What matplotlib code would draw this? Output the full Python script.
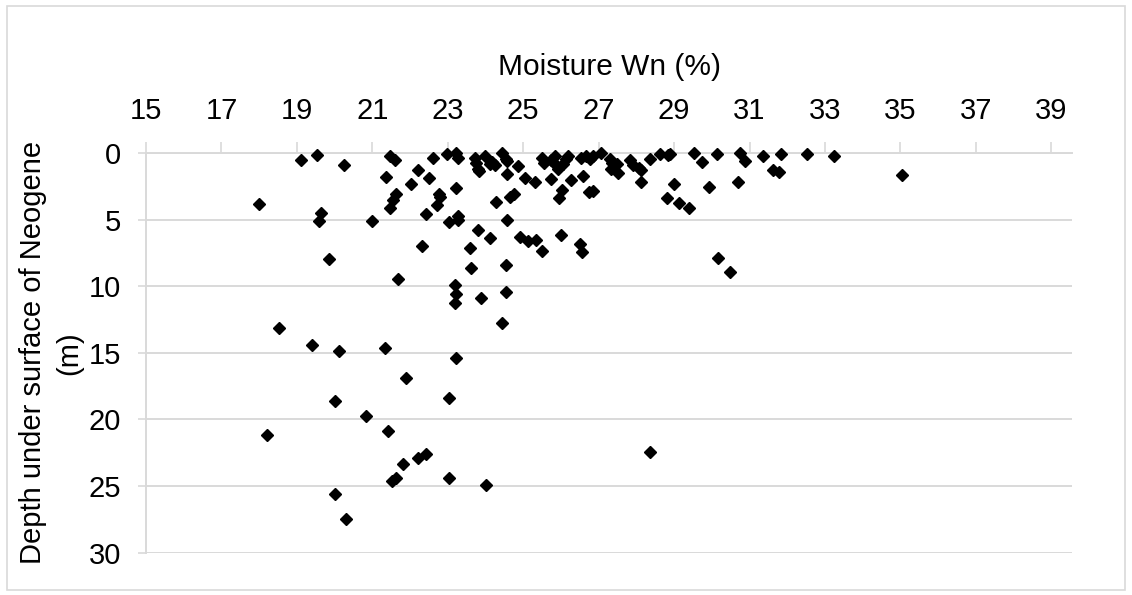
import matplotlib.pyplot as plt
from matplotlib.patches import Rectangle

plt.rcParams['font.family'] = ['Liberation Sans', 'DejaVu Sans']

# Data
moisture = [19.12, 19.54, 20.26, 21.48, 21.6, 22.6, 21.35, 22.22, 22.49, 22.02,
            21.64, 21.55, 21.46, 22.76, 22.8, 22.72, 17.99, 19.65, 19.59, 21.0,
            22.42, 22.31, 19.84, 21.69, 22.99, 23.23, 23.27, 23.23, 23.02, 23.27,
            23.27, 23.8, 23.58, 23.62, 24.13, 24.54, 24.27, 24.58, 24.64, 24.75,
            24.58, 24.85, 25.04, 25.3, 23.72, 23.76, 23.8, 23.83, 23.98, 24.11,
            24.18, 24.24, 24.45, 24.54, 24.57, 24.92, 25.13, 25.35, 25.5, 26.01,
            26.5, 26.57, 25.5, 25.54, 25.74, 25.83, 25.79, 25.73, 25.92, 26.05,
            26.14, 26.18, 26.27, 26.03, 25.95, 26.58, 26.52, 26.66, 26.76, 26.85,
            26.74, 26.85, 27.07, 27.29, 27.36, 27.33, 27.49, 27.51, 27.84, 27.91,
            28.07, 28.13, 28.11, 28.37, 28.62, 28.84, 28.9, 29.0, 28.82, 29.13,
            29.39, 29.54, 29.75, 29.92, 30.14, 30.16, 30.74, 30.87, 30.69, 31.35,
            31.84, 31.62, 31.78, 32.53, 33.25, 35.04, 30.49, 23.18, 23.23, 23.18,
            23.89, 24.54, 24.44, 18.53, 19.41, 20.12, 21.33, 23.23, 21.9, 20.01,
            23.02, 20.83, 21.42, 18.2, 22.22, 22.42, 21.82, 21.53, 21.64, 23.02,
            24.02, 20.02, 20.31, 28.35]
depth = [0.5, 0.15, 0.87, 0.25, 0.5, 0.37, 1.8, 1.27, 1.87, 2.35,
         3.05, 3.55, 4.17, 3.1, 3.3, 3.92, 3.85, 4.5, 5.12, 5.12,
         4.62, 6.95, 7.95, 9.45, 0.1, 0.0, 0.35, 2.6, 5.17, 4.75,
         5.0, 5.75, 7.1, 8.6, 6.42, 8.42, 3.67, 5.0, 3.3, 3.12,
         1.6, 0.95, 1.85, 2.17, 0.35, 0.75, 1.17, 1.35, 0.25, 0.8,
         0.67, 0.92, 0.0, 0.42, 0.6, 6.3, 6.62, 6.55, 7.35, 6.17,
         6.8, 7.43, 0.35, 0.75, 0.55, 0.25, 0.67, 1.95, 1.17, 0.8,
         0.42, 0.25, 2.05, 2.75, 3.42, 1.75, 0.37, 0.25, 0.42, 0.25,
         2.92, 2.85, 0.0, 0.42, 0.75, 1.17, 0.8, 1.5, 0.5, 0.92,
         1.1, 1.3, 2.17, 0.45, 0.05, 0.17, 0.05, 2.35, 3.42, 3.75,
         4.1, 0.0, 0.67, 2.55, 0.05, 7.92, 0.0, 0.6, 2.17, 0.25,
         0.05, 1.25, 1.42, 0.1, 0.25, 1.62, 8.92, 9.92, 10.6, 11.25,
         10.92, 10.42, 12.75, 13.12, 14.42, 14.87, 14.62, 15.42, 16.87, 18.6,
         18.42, 19.75, 20.9, 21.18, 22.92, 22.62, 23.37, 24.6, 24.42, 24.42,
         24.93, 25.6, 27.43, 22.43]

x_ticks = list(range(15, 40, 2))
y_ticks = list(range(0, 31, 5))

fig = plt.figure(figsize=(11.32, 5.95), dpi=100)
ax = fig.add_axes([0.129, 0.071, 0.818, 0.672])

grid_col = '#d9d9d9'
ax.plot(moisture, depth, linestyle='none', marker='D', markersize=6.2,
        color='black', zorder=3, clip_on=False)

ax.set_xlim(15, 39.55)
ax.set_ylim(30, 0)
ax.set_xticks(x_ticks)
ax.set_yticks(y_ticks)
ax.xaxis.tick_top()
ax.xaxis.set_label_position('top')
ax.yaxis.grid(True, color=grid_col, linewidth=1.4)
ax.set_axisbelow(True)

for s in ['right', 'bottom']:
    ax.spines[s].set_visible(False)
ax.spines['top'].set_color(grid_col)
ax.spines['top'].set_linewidth(1.4)
ax.spines['left'].set_color(grid_col)
ax.spines['left'].set_linewidth(1.4)

ax.tick_params(axis='x', which='major', top=True, direction='out', length=8,
               color=grid_col, width=1.2, labelsize=21, pad=12)
ax.tick_params(axis='y', which='major', direction='out', length=6,
               color=grid_col, width=1.2, labelsize=21, pad=12)

ax.set_xlabel('Moisture Wn (%)', fontsize=21.5, labelpad=16)
ax.set_ylabel('Depth under surface of Neogene\n(m)', fontsize=21,
              labelpad=4, linespacing=1.35)

fig.patches.append(Rectangle((0.006, 0.008), 0.988, 0.982,
                             transform=fig.transFigure, fill=False,
                             edgecolor='#d9d9d9', linewidth=1.2))

fig.savefig('out.png', dpi=100)
